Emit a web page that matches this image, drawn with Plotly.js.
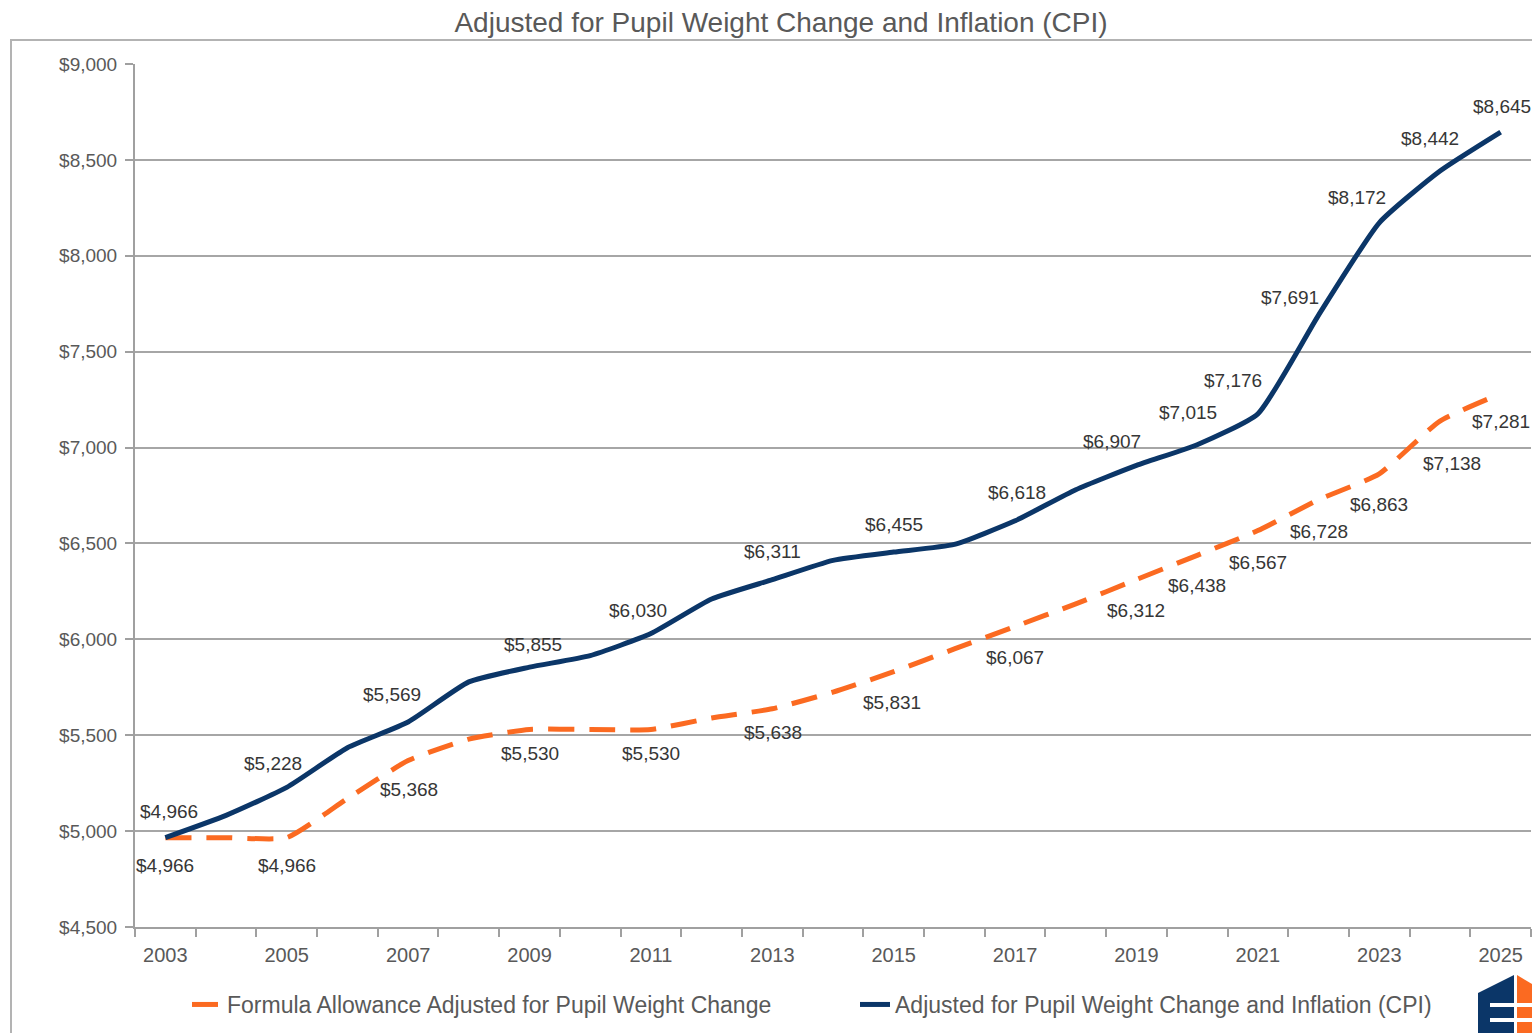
<!DOCTYPE html>
<html>
<head>
<meta charset="utf-8">
<script src="https://cdn.plot.ly/plotly-3.0.1.min.js"></script>
<style>
  html, body { margin: 0; padding: 0; background: #ffffff; }
  #chart { width: 1532px; height: 1033px; }
</style>
</head>
<body>
<div id="chart"></div>
<script>
// data
var years = [2003, 2004, 2005, 2006, 2007, 2008, 2009, 2010, 2011, 2012, 2013, 2014,
             2015, 2016, 2017, 2018, 2019, 2020, 2021, 2022, 2023, 2024, 2025];

var formulaAllowance = [4966, 4966, 4966, 5170, 5368, 5480, 5530, 5530, 5530, 5590, 5638, 5725,
                        5831, 5950, 6067, 6185, 6312, 6438, 6567, 6728, 6863, 7138, 7281];

var adjustedCPI = [4966, 5082, 5228, 5435, 5569, 5778, 5855, 5915, 6030, 6210, 6311, 6412,
                   6455, 6495, 6618, 6780, 6907, 7015, 7176, 7691, 8172, 8442, 8645];

var labelYears = [2003, 2005, 2007, 2009, 2011, 2013, 2015, 2017, 2019, 2020, 2021, 2022, 2023, 2024, 2025];

var xTickYears = [2003, 2005, 2007, 2009, 2011, 2013, 2015, 2017, 2019, 2021, 2023, 2025];

var NAVY = '#0b3668';
var ORANGE = '#fb6a21';
var SANS = '"Liberation Sans", Arial, sans-serif';

// label nudges in px (same order as labelYears)
var navyShiftX = [4, -14, -16, 3, -13, 0, 0, 2, -24, -9, -25, -29, -22, -10, 1];
var navyShiftY = [26, 24, 27, 23, 23, 28, 28, 28, 24, 32, 33, 18, 25, 33, 26];
var orangeShiftX = [0, 0, 1, 0, 0, 1, -2, 0, 0, 0, 0, 0, 0, 12, 0];
var orangeShiftY = [-28, -28, -29, -24, -24, -24, -31, -31, -31, -30, -32, -32, -31, -42, -28];

function money(v) {
  return '$' + v.toLocaleString('en-US');
}

// plot area in pixels, used for the border and logo
var L = 135, R = 1531, T = 64, B = 927;
function px(x) { return (x - L) / (R - L); }
function py(y) { return (B - y) / (B - T); }

var traceFormula = {
  x: years,
  y: formulaAllowance,
  type: 'scatter',
  mode: 'lines',
  name: 'Formula Allowance Adjusted for Pupil Weight Change',
  line: { color: ORANGE, width: 5, dash: '26px,15px', shape: 'spline', smoothing: 0.5 },
  hoverinfo: 'x+y'
};

var traceCPI = {
  x: years,
  y: adjustedCPI,
  type: 'scatter',
  mode: 'lines',
  name: 'Adjusted for Pupil Weight Change and Inflation (CPI)',
  line: { color: NAVY, width: 5, shape: 'spline', smoothing: 0.5 },
  hoverinfo: 'x+y'
};

var labelFont = { family: SANS, size: 19, color: '#363636' };
var annotations = [];
labelYears.forEach(function (yr, i) {
  var idx = years.indexOf(yr);
  annotations.push({
    x: yr, y: adjustedCPI[idx], xref: 'x', yref: 'y',
    text: money(adjustedCPI[idx]), showarrow: false,
    xshift: navyShiftX[i], yshift: navyShiftY[i],
    font: labelFont
  });
  annotations.push({
    x: yr, y: formulaAllowance[idx], xref: 'x', yref: 'y',
    text: money(formulaAllowance[idx]), showarrow: false,
    xshift: orangeShiftX[i], yshift: orangeShiftY[i],
    font: labelFont
  });
});

// outer chart border + logo
var shapes = [
  { type: 'rect', xref: 'paper', yref: 'paper', layer: 'below',
    x0: px(11), x1: px(1560), y0: py(1060), y1: py(40),
    line: { color: '#b3b3b3', width: 2 }, fillcolor: 'rgba(0,0,0,0)' },
  { type: 'path', xref: 'paper', yref: 'paper',
    path: 'M ' + px(1478) + ' ' + py(993) + ' L ' + px(1514) + ' ' + py(975) +
          ' L ' + px(1514) + ' ' + py(1033) + ' L ' + px(1478) + ' ' + py(1033) + ' Z',
    fillcolor: NAVY, line: { width: 0 } },
  { type: 'path', xref: 'paper', yref: 'paper',
    path: 'M ' + px(1517) + ' ' + py(975) + ' L ' + px(1532) + ' ' + py(984) +
          ' L ' + px(1532) + ' ' + py(1033) + ' L ' + px(1517) + ' ' + py(1033) + ' Z',
    fillcolor: ORANGE, line: { width: 0 } },
  { type: 'rect', xref: 'paper', yref: 'paper',
    x0: px(1490), x1: px(1532), y0: py(1007), y1: py(1003),
    fillcolor: '#ffffff', line: { width: 0 } },
  { type: 'rect', xref: 'paper', yref: 'paper',
    x0: px(1490), x1: px(1532), y0: py(1022), y1: py(1018),
    fillcolor: '#ffffff', line: { width: 0 } }
];

var layout = {
  width: 1532,
  height: 1033,
  paper_bgcolor: '#ffffff',
  plot_bgcolor: '#ffffff',
  margin: { l: L, r: 1532 - R, t: T, b: 1033 - B, pad: 0 },
  title: {
    text: 'Adjusted for Pupil Weight Change and Inflation (CPI)',
    xref: 'container', yref: 'container',
    x: 781 / 1532, y: 1 - 22 / 1033, xanchor: 'center', yanchor: 'middle',
    font: { family: SANS, size: 28, color: '#595959' }
  },
  font: { family: SANS, color: '#595959' },
  xaxis: {
    range: [2002.5, 2025.5],
    tickmode: 'array',
    tickvals: xTickYears,
    ticktext: xTickYears.map(String),
    ticks: '',
    ticklabelstandoff: 9,
    tickfont: { family: SANS, size: 20, color: '#595959' },
    showgrid: false,
    zeroline: false,
    showline: true,
    linecolor: '#a0a0a0',
    linewidth: 2,
    minor: { tick0: 2002.5, dtick: 1, ticks: 'outside', ticklen: 8, tickcolor: '#a0a0a0', tickwidth: 2, showgrid: false },
    fixedrange: true
  },
  yaxis: {
    range: [4500, 9000],
    tick0: 4500,
    dtick: 500,
    tickprefix: '$',
    tickformat: ',d',
    ticks: 'outside',
    ticklen: 8,
    tickcolor: '#a0a0a0',
    tickwidth: 2,
    ticklabelstandoff: 4,
    tickfont: { family: SANS, size: 19, color: '#595959' },
    showgrid: true,
    gridcolor: '#a6a6a6',
    gridwidth: 2,
    zeroline: false,
    showline: true,
    linecolor: '#a0a0a0',
    linewidth: 2,
    fixedrange: true
  },
  showlegend: true,
  legend: {
    orientation: 'h',
    x: px(855), xanchor: 'center',
    y: py(983), yanchor: 'top',
    entrywidth: 623,
    font: { family: SANS, size: 23, color: '#595959' },
    bgcolor: 'rgba(0,0,0,0)'
  },
  annotations: annotations,
  shapes: shapes
};

Plotly.newPlot('chart', [traceFormula, traceCPI], layout, { displayModeBar: false, staticPlot: true });
</script>
</body>
</html>
